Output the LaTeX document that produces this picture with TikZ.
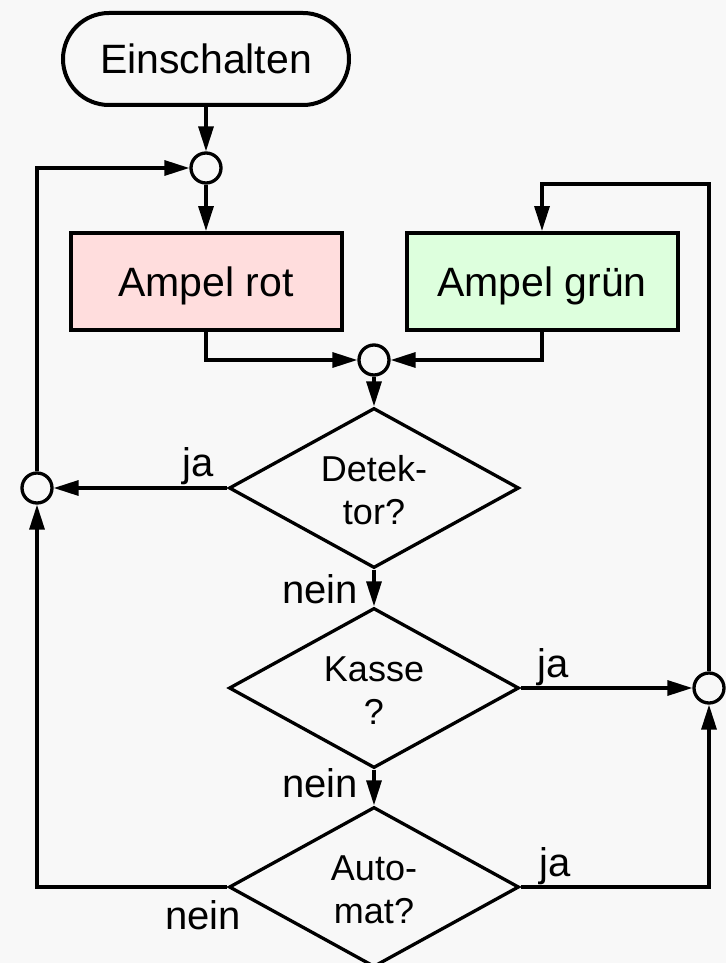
\documentclass[tikz,border=0pt]{standalone}
\usepackage{fontspec}
\setmainfont{Liberation Sans}
\usetikzlibrary{shapes.geometric,arrows.meta,positioning}
\definecolor{bgc}{RGB}{248,248,248}
\definecolor{rotfill}{RGB}{255,221,221}
\definecolor{gruenfill}{RGB}{221,255,221}
\tikzset{
  ln/.style={line width=3.3pt, line join=miter},
  arr/.style={ln, -{Triangle[length=25pt,width=15pt]}},
  junc/.style={ln, circle, draw, minimum size=30pt, inner sep=0pt, fill=bgc},
  procbox/.style={line width=4pt, draw, rectangle, minimum width=271pt, minimum height=97pt, inner sep=0pt,
    font=\fontsize{41}{48}\selectfont, text height=29pt, text depth=0pt},
  decision/.style={ln, draw, diamond, aspect=1.8125, minimum width=290pt, minimum height=160pt, inner sep=0pt,
    align=center, font=\fontsize{36}{43}\selectfont},
  lbl/.style={anchor=base, font=\fontsize{40}{48}\selectfont, inner sep=0pt}
}
\begin{document}
\begin{tikzpicture}[x=1pt,y=-1pt]
\fill[bgc] (0,0) rectangle (726,963);
\useasboundingbox (0,0) rectangle (726,963);

\node[line width=4pt, draw, rounded corners=46pt, minimum width=286pt, minimum height=92pt, inner sep=0pt,
  font=\fontsize{41}{48}\selectfont, text height=29pt, text depth=0pt] (ein) at (206,59) {Einschalten};
\node[junc] (c1) at (206,168) {};
\node[procbox, fill=rotfill] (rot) at (206,281.5) {Ampel rot};
\node[procbox, fill=gruenfill] (gruen) at (542,281.5) {Ampel grün};
\node[junc] (c2) at (374,360) {};
\node[decision] (d1) at (374,488) {\strut Detek-\\tor?};
\node[junc] (c3) at (37,488) {};
\node[decision] (d2) at (374,688) {\strut Kasse\\?};
\node[junc] (c4) at (709,688) {};
\node[decision] (d3) at (374,887) {\strut Auto-\\mat?};
\coordinate (gtop) at (542,184);

\draw[arr] (ein.south) -- (c1.north);
\draw[arr] (c1.south) -- (rot.north);
\draw[arr] (rot.south) |- (c2);
\draw[arr] (gruen.south) |- (c2);
\draw[arr] (c2.south) -- (d1.north);
\draw[arr] (d1.west) -- (c3.east);
\draw[arr] (d1.south) -- (d2.north);
\draw[arr] (d2.east) -- (c4.west);
\draw[arr] (d2.south) -- (d3.north);
\draw[arr] (d3.west) -| (c3.south);
\draw[arr] (d3.east) -| (c4.south);
\draw[arr] (c3.north) |- (c1.west);
\draw[arr] (c4.north) |- (gtop) -- (gruen.north);

\node[lbl] (l1) at (198,476) {ja};
\node[lbl] (l2) at (320,603) {nein};
\node[lbl] (l3) at (553,677) {ja};
\node[lbl] (l4) at (320,797) {nein};
\node[lbl] (l5) at (555,876) {ja};
\node[lbl] (l6) at (203,929) {nein};
\end{tikzpicture}
\end{document}
